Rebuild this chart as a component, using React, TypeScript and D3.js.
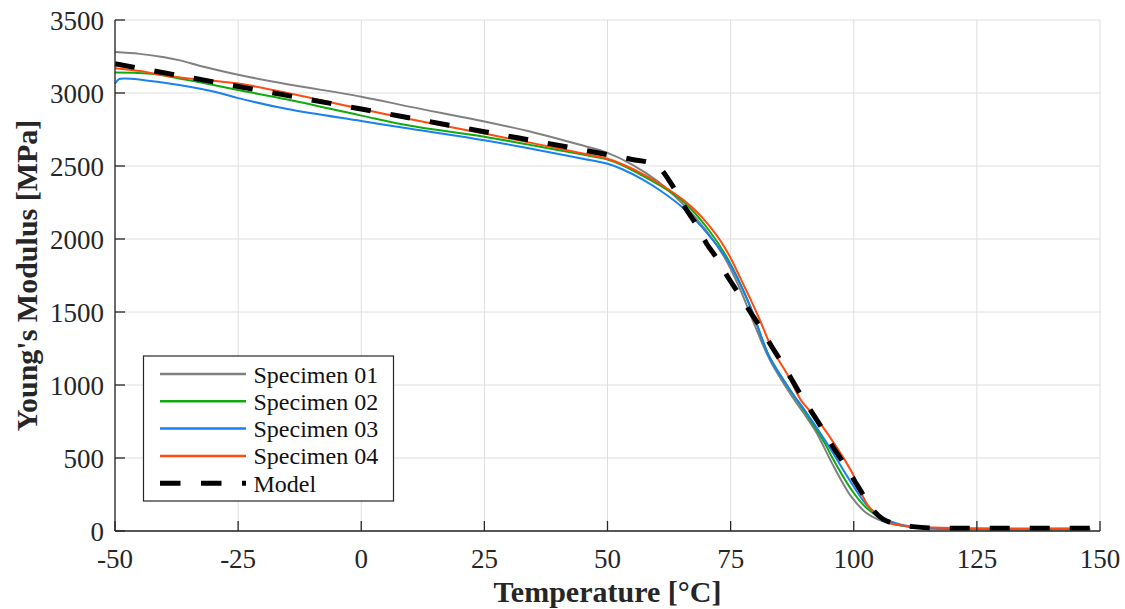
import React, { useEffect, useRef } from 'react';
import * as d3 from 'd3';

// Temperature [°C] vs Young's modulus [MPa]
const specimen01 = [
    [-50, 3280], [-45, 3268], [-40, 3245], [-37, 3225], [-32, 3180], [-25, 3125], [-15, 3060],
    [0, 2975], [10, 2905], [25, 2805], [35, 2730], [45, 2640], [50, 2590], [55, 2510],
    [60, 2400], [65, 2250], [70, 2060], [74, 1860], [77, 1650], [80, 1400],
    [83, 1170], [87.5, 920], [90, 800], [92.5, 670], [95.5, 470], [99.5, 235], [102.5, 125],
    [105, 78], [107, 58], [110, 36], [115, 20], [125, 13], [148, 13]
];

const specimen02 = [
    [-50, 3140], [-46, 3138], [-42, 3130], [-37, 3100], [-30, 3055], [-25, 3020], [-15, 2955],
    [0, 2845], [10, 2775], [25, 2700], [35, 2640], [45, 2578], [50, 2545], [53, 2505], [57, 2436],
    [61, 2360], [65.5, 2253], [70.6, 2060], [74.6, 1853], [78.7, 1560], [80.5, 1400],
    [82.8, 1200], [87.5, 943], [90, 820], [94.3, 590], [95.6, 505], [99.6, 279], [102.4, 164],
    [105, 98], [107, 62], [110, 35], [115, 18], [125, 12], [148, 12]
];

const specimen03 = [
    [-50, 3065], [-49.2, 3095], [-48, 3100], [-40, 3070], [-30, 3010], [-25, 2965], [-15, 2890],
    [0, 2808], [10, 2755], [25, 2676], [35, 2615], [45, 2550], [50, 2515], [53, 2478], [57, 2410],
    [61, 2325], [65.5, 2208], [70.6, 2025], [74.6, 1842], [78.7, 1560], [80.5, 1400],
    [82.8, 1195], [87.5, 945], [90, 830], [94.3, 615], [95.6, 545], [99.6, 325], [102.4, 188],
    [105, 110], [107, 73], [110, 40], [115, 20], [125, 13], [148, 13]
];

const specimen04 = [
    [-50, 3170], [-45, 3150], [-40, 3120], [-35, 3100], [-25, 3065], [-15, 3000], [0, 2890],
    [10, 2820], [25, 2722], [35, 2655], [45, 2585], [50, 2550], [53, 2512], [57, 2448], [61, 2370],
    [65.5, 2265], [68, 2190], [70.6, 2094], [73, 1985], [75, 1870], [77, 1730], [79, 1590],
    [81, 1440], [83.4, 1250], [87, 1045], [89.4, 890], [92, 790], [95.6, 621], [99.6, 404],
    [101.6, 255], [103, 170], [105.8, 80], [107.7, 50], [112, 32], [116, 24], [125, 18], [148, 18]
];

const model = [
    [-50, 3200], [0, 2890], [25, 2735], [50, 2578], [55, 2545], [59, 2518], [60.5, 2490],
    [62.9, 2381], [66, 2202], [68, 2100], [70.2, 1964], [72.2, 1868], [74.6, 1731], [76.6, 1628],
    [79, 1500], [81, 1397], [83.4, 1260], [85.1, 1169], [87.5, 1032], [89.3, 929], [91.9, 792],
    [93.6, 701], [96, 564], [98, 462], [100.3, 336], [102.4, 222], [104, 140], [106, 80],
    [108.5, 50], [112, 30], [116.5, 20], [125, 18], [148, 18]
];

const seriesNames = ['Specimen 01', 'Specimen 02', 'Specimen 03', 'Specimen 04', 'Model'];
const xTicks = [-50, -25, 0, 25, 50, 75, 100, 125, 150];
const yTicks = [0, 500, 1000, 1500, 2000, 2500, 3000, 3500];

const App = () => {
    const svgRef = useRef();
    const width = 1125;
    const height = 609;
    const margin = { top: 20, right: 25, bottom: 78, left: 115 };
    const font = '"Liberation Serif", "Times New Roman", serif';
    const axisColor = '#262626';

    useEffect(() => {
        const svg = d3.select(svgRef.current);
        svg.selectAll('*').remove();

        const plotWidth = width - margin.left - margin.right;
        const plotHeight = height - margin.top - margin.bottom;

        const plot = svg.append('g')
            .attr('transform', `translate(${margin.left}, ${margin.top})`);

        const xScale = d3.scaleLinear().domain([-50, 150]).range([0, plotWidth]);
        const yScale = d3.scaleLinear().domain([0, 3500]).range([plotHeight, 0]);

        // Grid
        plot.append('g').selectAll('line')
            .data(xTicks)
            .enter().append('line')
            .attr('x1', d => xScale(d)).attr('x2', d => xScale(d))
            .attr('y1', 0).attr('y2', plotHeight)
            .attr('stroke', '#dedede').attr('stroke-width', 1);
        plot.append('g').selectAll('line')
            .data(yTicks)
            .enter().append('line')
            .attr('x1', 0).attr('x2', plotWidth)
            .attr('y1', d => yScale(d)).attr('y2', d => yScale(d))
            .attr('stroke', '#dedede').attr('stroke-width', 1);

        // Curves
        const smoothLine = d3.line()
            .x(d => xScale(d[0]))
            .y(d => yScale(d[1]))
            .curve(d3.curveCatmullRom.alpha(0.5));
        const modelLine = d3.line()
            .x(d => xScale(d[0]))
            .y(d => yScale(d[1]))
            .curve(d3.curveMonotoneX);

        const series = [
            { name: seriesNames[0], data: specimen01, color: '#808080', width: 2, dash: null },
            { name: seriesNames[1], data: specimen02, color: '#10aa10', width: 2, dash: null },
            { name: seriesNames[2], data: specimen03, color: '#1a80f0', width: 2, dash: null },
            { name: seriesNames[3], data: specimen04, color: '#ff4a10', width: 2, dash: null },
            { name: seriesNames[4], data: model, color: '#000000', width: 5, dash: '20,20' }
        ];

        series.forEach(s => {
            plot.append('path')
                .datum(s.data)
                .attr('d', s.dash ? modelLine : smoothLine)
                .attr('fill', 'none')
                .attr('stroke', s.color)
                .attr('stroke-width', s.width)
                .attr('stroke-dasharray', s.dash);
        });

        // Axes (ticks pointing inward)
        const xAxis = plot.append('g').attr('transform', `translate(0, ${plotHeight})`);
        xAxis.append('line')
            .attr('x1', 0).attr('x2', plotWidth)
            .attr('stroke', axisColor).attr('stroke-width', 1.3);
        xAxis.selectAll('.tick')
            .data(xTicks)
            .enter().append('line')
            .attr('x1', d => xScale(d)).attr('x2', d => xScale(d))
            .attr('y1', 0).attr('y2', -10)
            .attr('stroke', axisColor).attr('stroke-width', 1.3);
        xAxis.selectAll('text')
            .data(xTicks)
            .enter().append('text')
            .attr('x', d => xScale(d))
            .attr('y', 37)
            .attr('text-anchor', 'middle')
            .attr('font-family', font)
            .attr('font-size', 27)
            .attr('fill', axisColor)
            .text(d => d);

        const yAxis = plot.append('g');
        yAxis.append('line')
            .attr('y1', 0).attr('y2', plotHeight)
            .attr('stroke', axisColor).attr('stroke-width', 1.3);
        yAxis.selectAll('.tick')
            .data(yTicks)
            .enter().append('line')
            .attr('x1', 0).attr('x2', 10)
            .attr('y1', d => yScale(d)).attr('y2', d => yScale(d))
            .attr('stroke', axisColor).attr('stroke-width', 1.3);
        yAxis.selectAll('text')
            .data(yTicks)
            .enter().append('text')
            .attr('x', -11)
            .attr('y', d => yScale(d) + 10)
            .attr('text-anchor', 'end')
            .attr('font-family', font)
            .attr('font-size', 27)
            .attr('fill', axisColor)
            .text(d => d);

        // Axis labels
        plot.append('text')
            .attr('x', plotWidth / 2)
            .attr('y', plotHeight + 71)
            .attr('text-anchor', 'middle')
            .attr('font-family', font)
            .attr('font-size', 30)
            .attr('font-weight', 'bold')
            .attr('fill', axisColor)
            .text('Temperature [°C]');

        plot.append('text')
            .attr('transform', 'rotate(-90)')
            .attr('x', -plotHeight / 2)
            .attr('y', -78)
            .attr('text-anchor', 'middle')
            .attr('font-family', font)
            .attr('font-size', 30)
            .attr('font-weight', 'bold')
            .attr('fill', axisColor)
            .text("Young's Modulus [MPa]");

        // Legend
        const legend = svg.append('g').attr('transform', 'translate(143.5, 356)');
        legend.append('rect')
            .attr('width', 250).attr('height', 145)
            .attr('fill', '#ffffff')
            .attr('stroke', axisColor).attr('stroke-width', 1.2);
        const rows = legend.selectAll('.row')
            .data(series)
            .enter().append('g')
            .attr('transform', (d, i) => `translate(0, ${18 + i * 27.3})`);
        rows.append('line')
            .attr('x1', 16.5).attr('x2', 102.5)
            .attr('stroke', d => d.color)
            .attr('stroke-width', d => d.dash ? 5 : 2.5)
            .attr('stroke-dasharray', d => d.dash ? '20.5,20.5' : null);
        rows.append('text')
            .attr('x', 110)
            .attr('y', 8.5)
            .attr('font-family', font)
            .attr('font-size', 24)
            .attr('fill', '#111111')
            .text(d => d.name);
    }, []);

    return (
        <svg
            ref={svgRef}
            width={width}
            height={height}
            style={{ position: 'absolute', left: 0, top: 0, background: '#ffffff' }}
        ></svg>
    );
};

export default App;
